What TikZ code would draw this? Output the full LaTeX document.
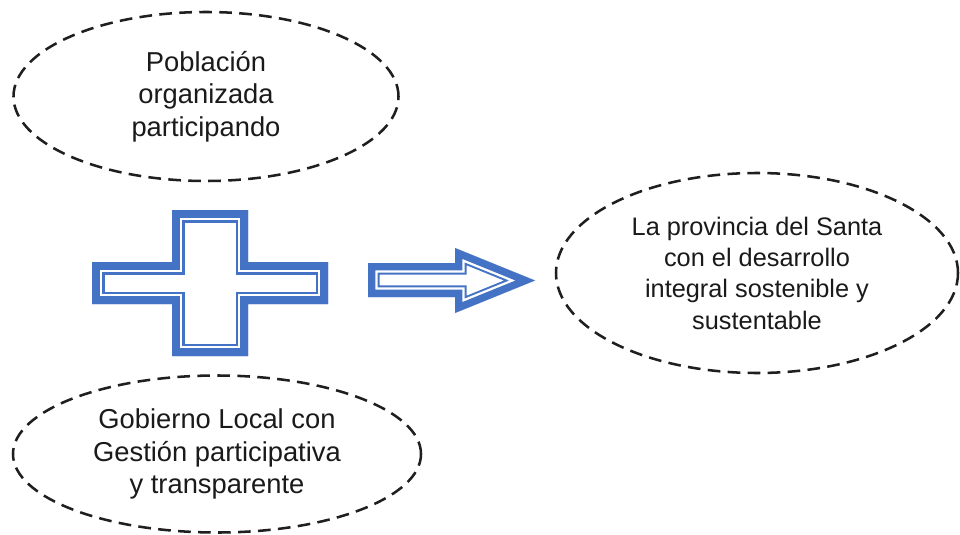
\documentclass[tikz,border=0pt]{standalone}
\usepackage{fontspec}
\setmainfont{Liberation Sans}
\usetikzlibrary{shapes.geometric}
\definecolor{crossblue}{HTML}{4472C4}
\definecolor{txtc}{HTML}{1A1A1A}
\newcommand\crossoutline{(172,210) -- (248,210) -- (248,262) -- (328,262) -- (328,304) -- (248,304) -- (248,356) -- (172,356) -- (172,304) -- (92,304) -- (92,262) -- (172,262) -- cycle}
\newcommand\arrowoutline{(368,263) -- (455,263) -- (455,248) -- (535,280.5) -- (455,313) -- (455,297) -- (368,297) -- cycle}
\begin{document}
\begin{tikzpicture}[x=0.75pt,y=-0.75pt,
  bubble/.style={ellipse,draw=black!88,line width=1.9pt,dash pattern=on 9.5pt off 5.5pt,inner sep=0pt,align=center,text=txtc},
  ltext/.style={font=\fontsize{20.5}{24.4}\selectfont},
  rtext/.style={font=\fontsize{19}{23.5}\selectfont},
  band/.style={line join=miter}]
\useasboundingbox (0,0) rectangle (960,535);
\fill[white] (0,0) rectangle (960,535);
\node[bubble,ltext,minimum width=288.75pt,minimum height=126.75pt] (pop) at (206,96.5) {Población\\organizada\\participando};
\node[bubble,ltext,minimum width=306pt,minimum height=117.75pt] (gob) at (217,454) {Gobierno Local con\\Gestión participativa\\y transparente};
\node[bubble,rtext,minimum width=301.5pt,minimum height=150pt] (prov) at (757,273) {La provincia del Santa\\con el desarrollo\\integral sostenible y\\sustentable};
\begin{scope}
  \clip \crossoutline;
  \fill[white] \crossoutline;
  \draw[band,crossblue,line width=18.75pt] \crossoutline;
  \draw[band,white,line width=15.5pt] \crossoutline;
  \draw[band,crossblue,line width=12pt] \crossoutline;
\end{scope}
\begin{scope}
  \clip \arrowoutline;
  \fill[white] \arrowoutline;
  \draw[band,crossblue,line width=17.5pt] \arrowoutline;
  \draw[band,white,line width=14.5pt] \arrowoutline;
  \draw[band,crossblue,line width=11pt] \arrowoutline;
\end{scope}
\end{tikzpicture}
\end{document}
